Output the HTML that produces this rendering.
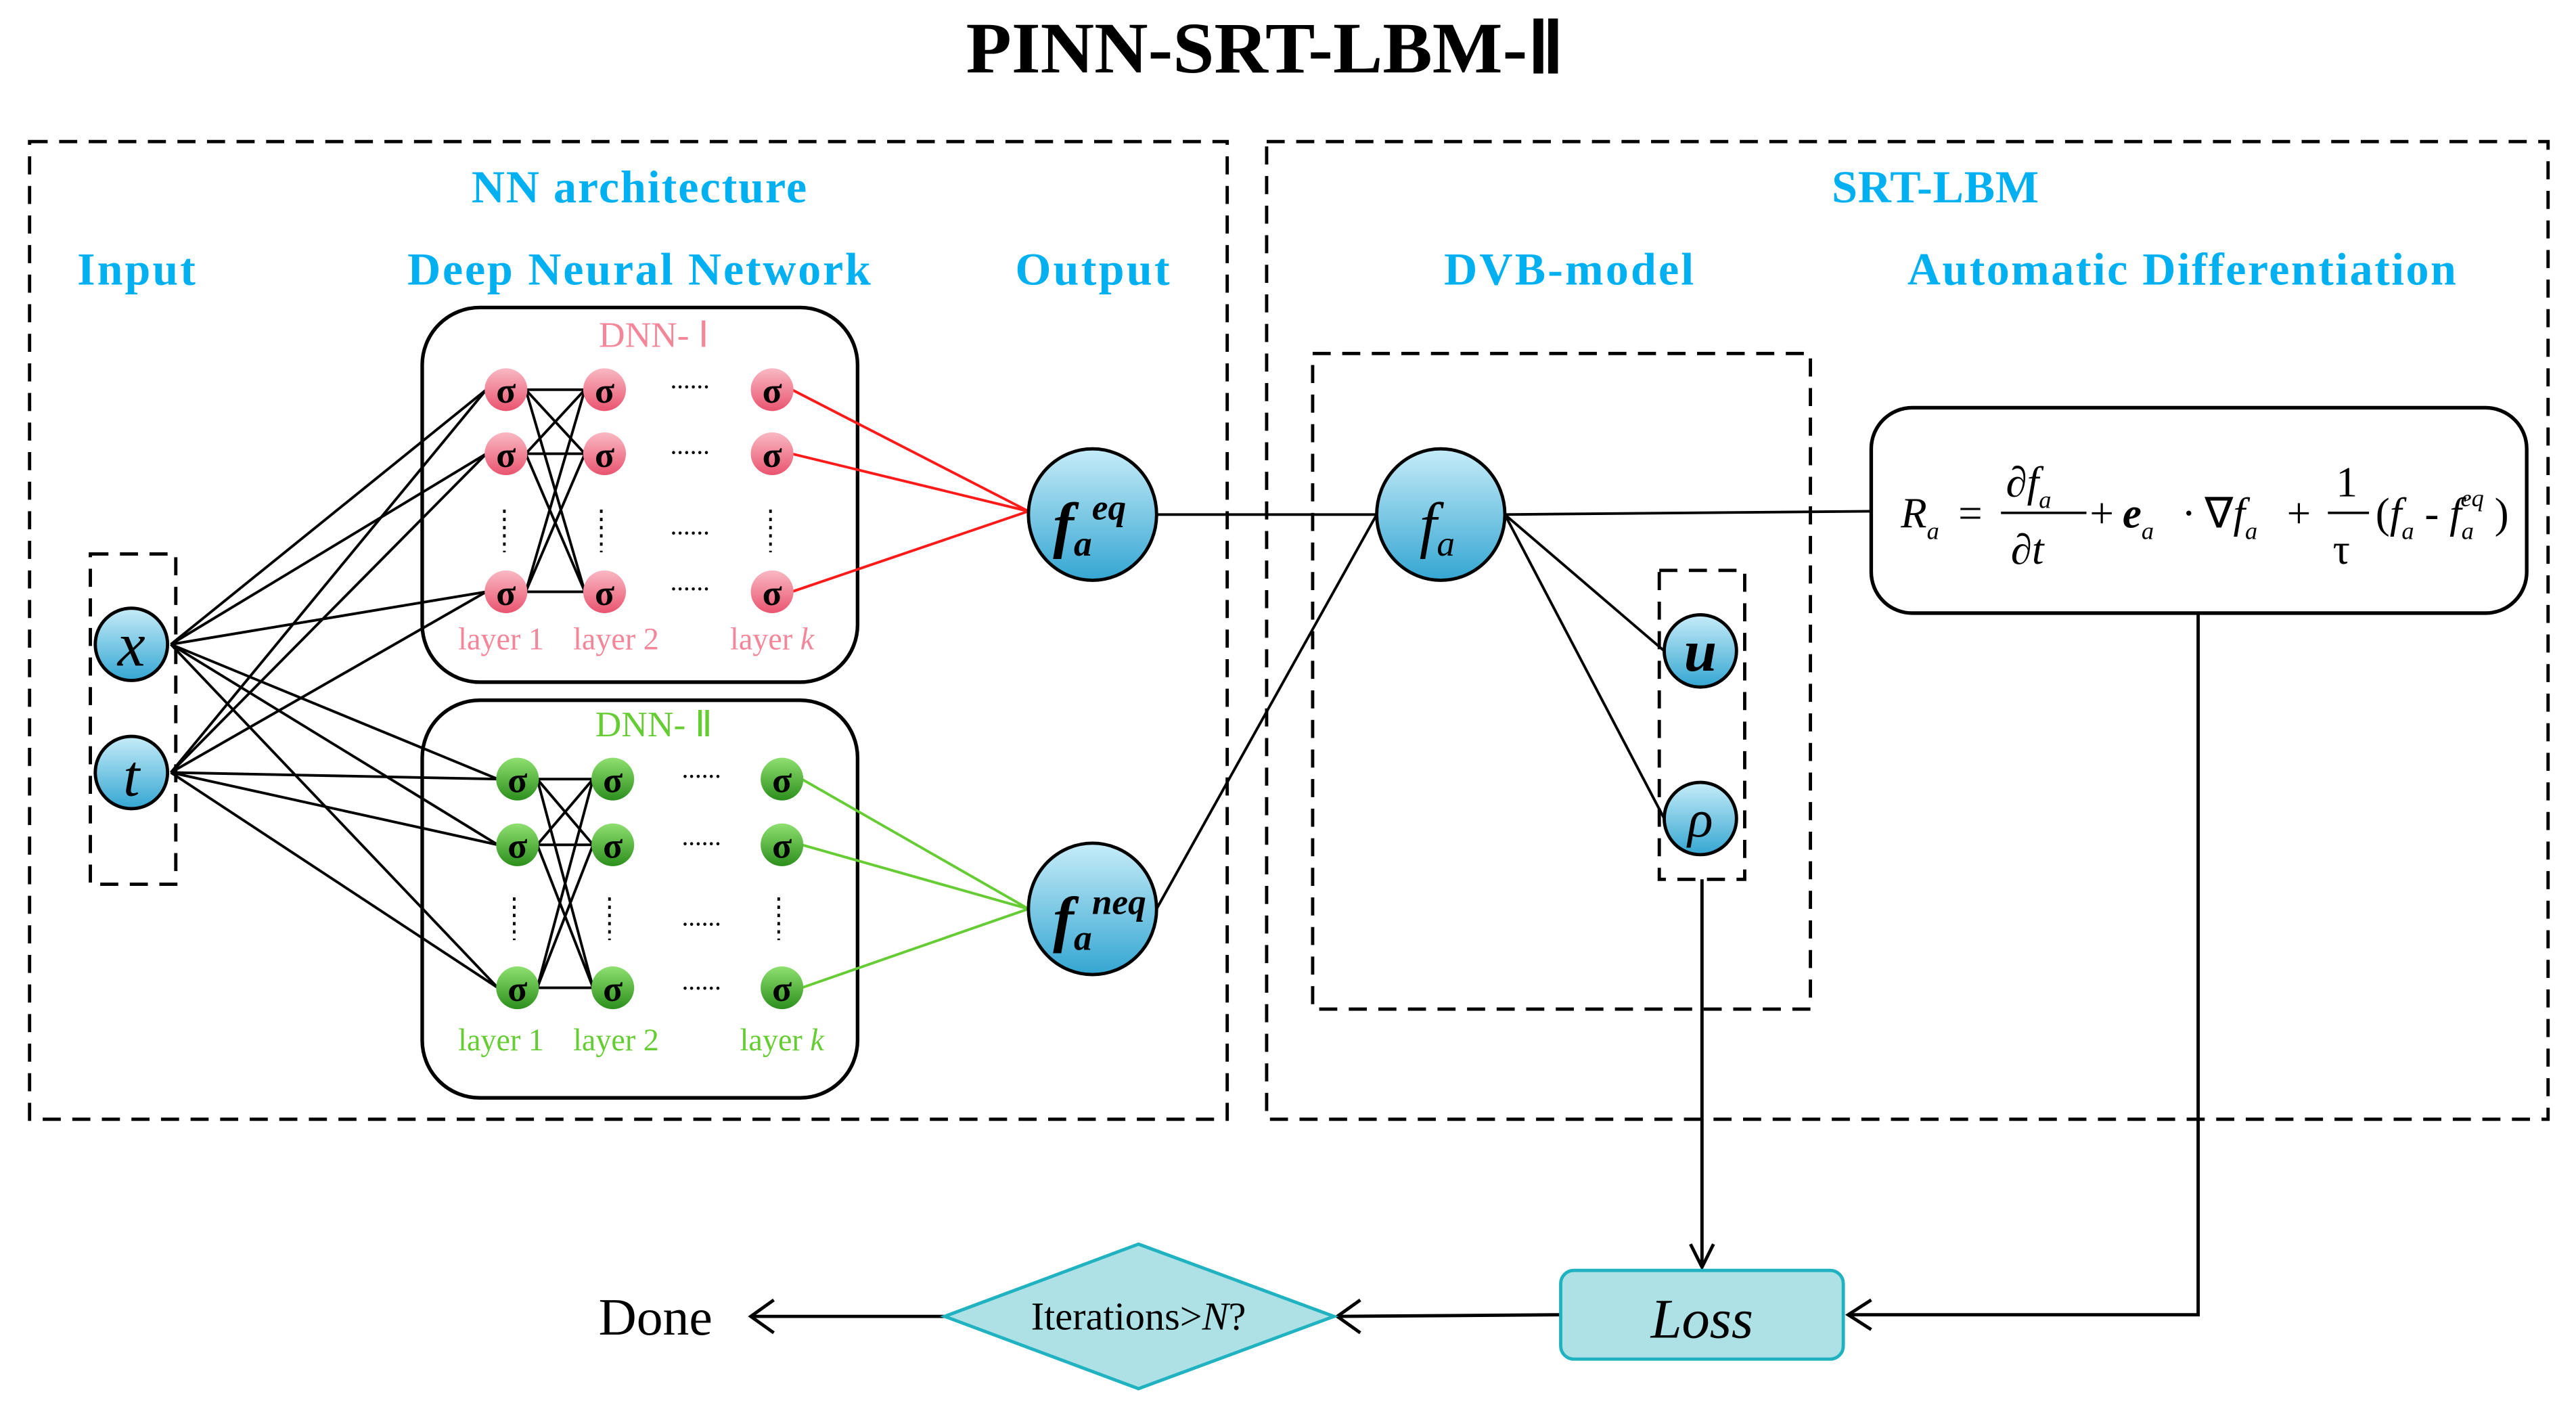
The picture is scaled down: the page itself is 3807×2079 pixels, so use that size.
<!DOCTYPE html>
<html><head><meta charset="utf-8"><style>
html,body{margin:0;padding:0;background:#fff;}
svg{display:block;}
</style></head><body>
<svg width="3807" height="2079" viewBox="0 0 1568 856" xmlns="http://www.w3.org/2000/svg">
<defs>
<linearGradient id="gb" x1="0" y1="0" x2="0" y2="1"><stop offset="0" stop-color="#c6ecf8"/><stop offset="1" stop-color="#34a6d2"/></linearGradient>
<linearGradient id="gp" x1="0" y1="0" x2="0" y2="1"><stop offset="0" stop-color="#f9b9c4"/><stop offset="1" stop-color="#e9546f"/></linearGradient>
<linearGradient id="gg" x1="0" y1="0" x2="0" y2="1"><stop offset="0" stop-color="#8fe070"/><stop offset="1" stop-color="#2c8f1c"/></linearGradient>
</defs>
<g font-family="Liberation Serif, serif">
<text x="770" y="44" text-anchor="middle" font-size="44" font-weight="bold" textLength="364" lengthAdjust="spacingAndGlyphs">PINN-SRT-LBM-Ⅱ</text>

<g fill="none" stroke="#000" stroke-width="2" stroke-dasharray="11,7">
<rect x="18" y="86" width="729" height="595"/>
<rect x="771" y="86" width="780" height="595"/>
<rect x="55" y="337" width="52" height="201"/>
<rect x="799" y="215" width="303" height="399"/>
<rect x="1010" y="347" width="52" height="188"/>
</g>

<g fill="#00b0f0" font-weight="bold" font-size="28" text-anchor="middle" lengthAdjust="spacingAndGlyphs">
<text x="389" y="123" textLength="204">NN architecture</text>
<text x="83" y="173" textLength="72">Input</text>
<text x="389" y="173" textLength="282">Deep Neural Network</text>
<text x="665" y="173" textLength="94">Output</text>
<text x="1178" y="123" textLength="126">SRT-LBM</text>
<text x="955" y="173" textLength="152">DVB-model</text>
<text x="1328" y="173" textLength="334">Automatic Differentiation</text>
</g>

<g fill="none" stroke="#000" stroke-width="2.2">
<rect x="257" y="187" width="265" height="228" rx="35"/>
<rect x="257" y="426" width="265" height="242" rx="35"/>
<rect x="1139" y="248" width="399" height="125" rx="25"/>
</g>
<text x="398" y="211" text-anchor="middle" font-size="22" fill="#f4869a">DNN- Ⅰ</text>
<text x="398" y="448" text-anchor="middle" font-size="22" fill="#66cc33">DNN- Ⅱ</text>

<g stroke="#000" stroke-width="1.6">
<line x1="104" y1="392" x2="296" y2="237"/><line x1="104" y1="392" x2="296" y2="276"/><line x1="104" y1="392" x2="296" y2="360"/>
<line x1="104" y1="470" x2="296" y2="237"/><line x1="104" y1="470" x2="296" y2="276"/><line x1="104" y1="470" x2="296" y2="360"/>
<line x1="104" y1="392" x2="303" y2="474"/><line x1="104" y1="392" x2="303" y2="514"/><line x1="104" y1="392" x2="303" y2="601"/>
<line x1="104" y1="470" x2="303" y2="474"/><line x1="104" y1="470" x2="303" y2="514"/><line x1="104" y1="470" x2="303" y2="601"/>
<line x1="320" y1="237" x2="356" y2="237"/><line x1="320" y1="237" x2="356" y2="276"/><line x1="320" y1="237" x2="356" y2="360"/>
<line x1="320" y1="276" x2="356" y2="237"/><line x1="320" y1="276" x2="356" y2="276"/><line x1="320" y1="276" x2="356" y2="360"/>
<line x1="320" y1="360" x2="356" y2="237"/><line x1="320" y1="360" x2="356" y2="276"/><line x1="320" y1="360" x2="356" y2="360"/>
<line x1="327" y1="474" x2="361" y2="474"/><line x1="327" y1="474" x2="361" y2="514"/><line x1="327" y1="474" x2="361" y2="601"/>
<line x1="327" y1="514" x2="361" y2="474"/><line x1="327" y1="514" x2="361" y2="514"/><line x1="327" y1="514" x2="361" y2="601"/>
<line x1="327" y1="601" x2="361" y2="474"/><line x1="327" y1="601" x2="361" y2="514"/><line x1="327" y1="601" x2="361" y2="601"/>
<line x1="704" y1="313" x2="838" y2="313"/>
<line x1="704" y1="553" x2="838" y2="313"/>
<line x1="916" y1="313" x2="1139" y2="311"/>
<line x1="916" y1="313" x2="1013" y2="396"/>
<line x1="916" y1="313" x2="1013" y2="498"/>
</g>
<g stroke="#ff1a1a" stroke-width="1.6">
<line x1="482" y1="237" x2="626" y2="311"/><line x1="482" y1="276" x2="626" y2="311"/><line x1="482" y1="360" x2="626" y2="311"/>
</g>
<g stroke="#66cc33" stroke-width="1.6">
<line x1="488" y1="474" x2="626" y2="553"/><line x1="488" y1="514" x2="626" y2="553"/><line x1="488" y1="601" x2="626" y2="553"/>
</g>

<g fill="#000" font-size="16" text-anchor="middle">
<text x="420" y="236">......</text><text x="420" y="276">......</text><text x="420" y="325">......</text><text x="420" y="359">......</text>
<text x="427" y="473">......</text><text x="427" y="514">......</text><text x="427" y="563">......</text><text x="427" y="602">......</text>
</g>
<g stroke="#000" stroke-width="1.6" stroke-dasharray="2,3">
<line x1="307" y1="310" x2="307" y2="336"/><line x1="366" y1="310" x2="366" y2="336"/><line x1="469" y1="310" x2="469" y2="336"/>
<line x1="313" y1="546" x2="313" y2="572"/><line x1="371" y1="546" x2="371" y2="572"/><line x1="474" y1="546" x2="474" y2="572"/>
</g>

<g fill="url(#gp)">
<circle cx="308" cy="237" r="13"/><circle cx="368" cy="237" r="13"/><circle cx="470" cy="237" r="13"/>
<circle cx="308" cy="276" r="13"/><circle cx="368" cy="276" r="13"/><circle cx="470" cy="276" r="13"/>
<circle cx="308" cy="360" r="13"/><circle cx="368" cy="360" r="13"/><circle cx="470" cy="360" r="13"/>
</g>
<g fill="url(#gg)">
<circle cx="315" cy="474" r="13"/><circle cx="373" cy="474" r="13"/><circle cx="476" cy="474" r="13"/>
<circle cx="315" cy="514" r="13"/><circle cx="373" cy="514" r="13"/><circle cx="476" cy="514" r="13"/>
<circle cx="315" cy="601" r="13"/><circle cx="373" cy="601" r="13"/><circle cx="476" cy="601" r="13"/>
</g>
<g font-size="22" font-weight="bold" text-anchor="middle" fill="#000">
<text x="308" y="245">σ</text><text x="368" y="245">σ</text><text x="470" y="245">σ</text>
<text x="308" y="284">σ</text><text x="368" y="284">σ</text><text x="470" y="284">σ</text>
<text x="308" y="368">σ</text><text x="368" y="368">σ</text><text x="470" y="368">σ</text>
<text x="315" y="482">σ</text><text x="373" y="482">σ</text><text x="476" y="482">σ</text>
<text x="315" y="522">σ</text><text x="373" y="522">σ</text><text x="476" y="522">σ</text>
<text x="315" y="609">σ</text><text x="373" y="609">σ</text><text x="476" y="609">σ</text>
</g>
<g font-size="19" text-anchor="middle" fill="#f4869a">
<text x="305" y="395">layer 1</text><text x="375" y="395">layer 2</text><text x="470" y="395">layer <tspan font-style="italic">k</tspan></text>
</g>
<g font-size="19" text-anchor="middle" fill="#66cc33">
<text x="305" y="639">layer 1</text><text x="375" y="639">layer 2</text><text x="476" y="639">layer <tspan font-style="italic">k</tspan></text>
</g>

<g fill="url(#gb)" stroke="#000" stroke-width="2">
<circle cx="80" cy="392" r="22"/><circle cx="80" cy="470" r="22"/>
<ellipse cx="665" cy="313" rx="39" ry="40"/><ellipse cx="665" cy="553" rx="39" ry="40"/>
<ellipse cx="877" cy="313" rx="39" ry="40"/>
<circle cx="1035" cy="396" r="22"/><circle cx="1035" cy="498" r="22"/>
</g>
<g font-style="italic" fill="#000">
<text x="80" y="405" font-size="38" text-anchor="middle">x</text>
<text x="80" y="484" font-size="36" text-anchor="middle">t</text>
<text x="641" y="332" font-size="38" font-weight="bold">f<tspan font-size="22" dy="6">a</tspan><tspan font-size="22" dy="-22">eq</tspan></text>
<text x="641" y="572" font-size="38" font-weight="bold">f<tspan font-size="22" dy="6">a</tspan><tspan font-size="22" dy="-22">neq</tspan></text>
<text x="864" y="332" font-size="38">f<tspan font-size="22" dy="6">a</tspan></text>
<text x="1035" y="408" font-size="36" text-anchor="middle" font-weight="bold">u</text>
<text x="1035" y="509" font-size="32" text-anchor="middle">ρ</text>
</g>

<g font-size="26" fill="#000">
<text x="1157" y="321" font-style="italic">R<tspan font-size="15" dy="7">a</tspan></text>
<text x="1192" y="321">=</text>
<text x="1221" y="302" font-style="italic">∂f<tspan font-size="15" dy="7">a</tspan></text>
<line x1="1218" y1="312" x2="1270" y2="312" stroke="#000" stroke-width="1.5"/>
<text x="1224" y="343" font-style="italic">∂t</text>
<text x="1272" y="321">+</text>
<text x="1292" y="321" font-style="italic" font-weight="bold">e<tspan font-size="15" font-weight="normal" dy="7">a</tspan></text>
<text x="1328" y="321">·</text>
<text x="1342" y="321">∇<tspan font-style="italic">f</tspan><tspan font-size="15" font-style="italic" dy="7">a</tspan></text>
<text x="1392" y="321">+</text>
<text x="1422" y="302">1</text>
<line x1="1417" y1="312" x2="1442" y2="312" stroke="#000" stroke-width="1.5"/>
<text x="1420" y="343">τ</text>
<text x="1446" y="321">(<tspan font-style="italic">f</tspan><tspan font-size="15" font-style="italic" dy="7">a</tspan><tspan dy="-7"> - </tspan><tspan font-style="italic">f</tspan><tspan font-size="15" font-style="italic" dy="7">a</tspan><tspan font-size="15" font-style="italic" dx="-8" dy="-20">eq</tspan><tspan dy="13"> )</tspan></text>
</g>

<g stroke="#000" stroke-width="2" fill="none">
<polyline points="1338,373 1338,800 1125,800"/>
<polyline points="1139,791 1125,800 1139,809"/>
<line x1="1036" y1="535" x2="1036" y2="771"/>
<polyline points="1029,757 1036,771 1043,757"/>
<line x1="950" y1="800" x2="814" y2="801"/>
<polyline points="828,791 814,801 828,811"/>
<line x1="575" y1="801" x2="457" y2="801"/>
<polyline points="471,791 457,801 471,811"/>
</g>
<rect x="950" y="773" width="172" height="54" rx="8" fill="#ade1e5" stroke="#20b2c0" stroke-width="2"/>
<polygon points="693,757 812,801 693,845 575,801" fill="#ade1e5" stroke="#20b2c0" stroke-width="2"/>
<text x="1036" y="814" text-anchor="middle" font-size="34" font-style="italic">Loss</text>
<text x="693" y="809" text-anchor="middle" font-size="24">Iterations&gt;<tspan font-style="italic">N</tspan>?</text>
<text x="399" y="812" text-anchor="middle" font-size="32">Done</text>
</g>
</svg>
</body></html>
